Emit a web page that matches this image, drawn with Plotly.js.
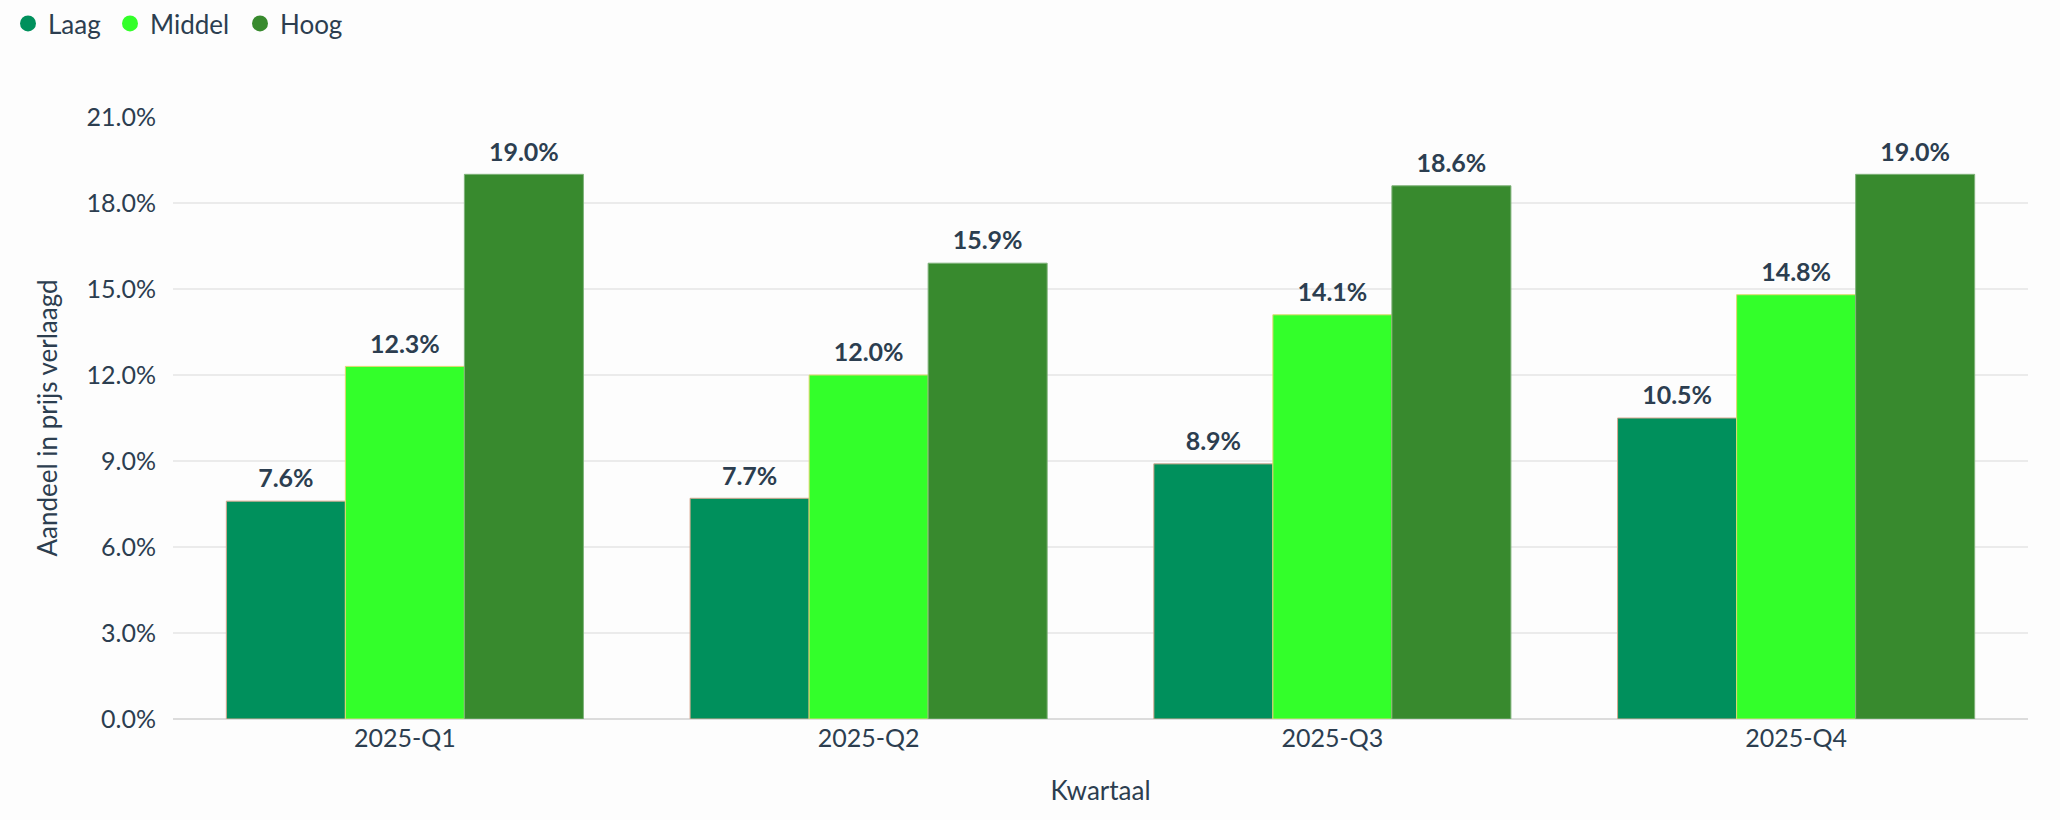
<!DOCTYPE html>
<html>
<head>
<meta charset="utf-8">
<script src="https://cdn.plot.ly/plotly-3.0.1.min.js"></script>
<style>
  html, body { margin: 0; padding: 0; background: #fdfdfd; }
  #chart { width: 2060px; height: 820px; }
</style>
</head>
<body>
<div id="chart"></div>
<script>
var kwartalen = ['2025-Q1', '2025-Q2', '2025-Q3', '2025-Q4'];
var laag = [7.6, 7.7, 8.9, 10.5];
var middel = [12.3, 12.0, 14.1, 14.8];
var hoog = [19.0, 15.9, 18.6, 19.0];
var reeksNamen = ['Laag', 'Middel', 'Hoog'];
var kleuren = ['#00905c', '#33ff2a', '#388a2e'];
var randKleuren = ['#d8a890', '#e2d872', '#7fb27a'];

var tekstKleur = '#2c3e50';
var labelPad = 0.2; // extra room (in %) between bar top and its label
var legendaLinks = [8, 110, 240]; // left edge of each legend entry, px
var reeksen = [laag, middel, hoog];
var legendaIds = ['legend', 'legend2', 'legend3'];

var data = [];
// bars
for (let i = 0; i < reeksen.length; i++) {
  data.push({
    type: 'bar',
    name: reeksNamen[i],
    x: kwartalen,
    y: reeksen[i],
    offsetgroup: 'g' + i,
    marker: { color: kleuren[i], line: { color: randKleuren[i], width: 1 } },
    showlegend: false,
    hoverinfo: 'skip'
  });
}
// invisible thin bars on top of each bar that carry the value labels
for (let i = 0; i < reeksen.length; i++) {
  data.push({
    type: 'bar',
    x: kwartalen,
    y: reeksen[i].map(function () { return labelPad; }),
    base: reeksen[i],
    customdata: reeksen[i],
    offsetgroup: 'g' + i,
    marker: { color: 'rgba(0,0,0,0)', line: { width: 0 } },
    texttemplate: '<b>%{customdata:.1f}%</b>',
    textposition: 'outside',
    textfont: { family: 'Lato', size: 25, color: tekstKleur },
    cliponaxis: false,
    showlegend: false,
    hoverinfo: 'skip'
  });
}
// round legend dots, one legend per entry so the spacing can be set
for (let i = 0; i < reeksen.length; i++) {
  data.push({
    type: 'scatter',
    mode: 'markers',
    name: reeksNamen[i],
    x: [null],
    y: [null],
    legend: legendaIds[i],
    marker: { color: kleuren[i], size: 16, symbol: 'circle' },
    showlegend: true
  });
}

var layout = {
  width: 2060,
  height: 820,
  paper_bgcolor: '#fdfdfd',
  plot_bgcolor: '#fdfdfd',
  font: { family: 'Lato', size: 25, color: tekstKleur },
  margin: { l: 173, r: 32, t: 117, b: 101 },
  barmode: 'group',
  bargap: 0.23,
  bargroupgap: 0,
  showlegend: true,
  xaxis: {
    type: 'category',
    title: { text: 'Kwartaal', standoff: 30, font: { family: 'Lato', size: 26, color: tekstKleur } },
    tickfont: { family: 'Lato', size: 25, color: tekstKleur },
    ticklabelstandoff: 2,
    showgrid: false,
    showline: false,
    ticks: ''
  },
  yaxis: {
    title: { text: 'Aandeel in prijs verlaagd', standoff: 21, font: { family: 'Lato', size: 26, color: tekstKleur } },
    range: [0, 21],
    dtick: 3,
    tickformat: '.1f',
    ticksuffix: '%',
    tickfont: { family: 'Lato', size: 25, color: tekstKleur },
    ticklabelstandoff: 16,
    gridcolor: '#ebebeb',
    gridwidth: 1.5,
    zeroline: true,
    zerolinecolor: '#dcdcdc',
    zerolinewidth: 2,
    ticks: ''
  }
};

legendaIds.forEach(function (id, i) {
  layout[id] = {
    orientation: 'h',
    xref: 'container', yref: 'container',
    x: legendaLinks[i] / 2060, y: 1, xanchor: 'left', yanchor: 'top',
    bgcolor: 'rgba(0,0,0,0)',
    font: { family: 'Lato', size: 26, color: tekstKleur }
  };
});

Plotly.newPlot('chart', data, layout, { displayModeBar: false, responsive: false });
</script>
</body>
</html>
